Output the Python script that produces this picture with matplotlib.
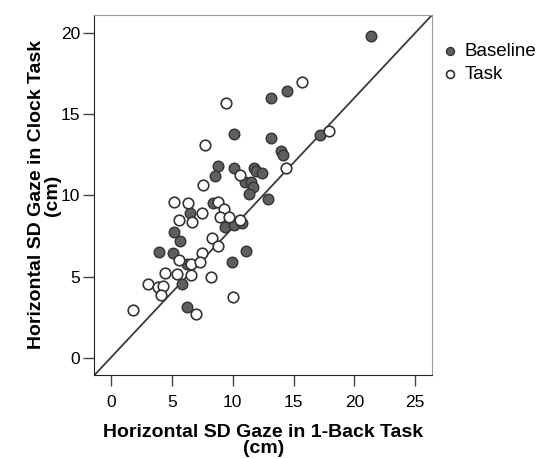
import matplotlib.pyplot as plt

plt.rcParams['font.family'] = ['Liberation Sans', 'DejaVu Sans']

# horizontal SD gaze (cm): 1-back task (x) vs clock task (y)
baseline_x = [21.4, 14.46, 13.12, 10.13, 13.12, 17.14, 13.97, 14.13, 8.82, 8.55,
              10.08, 11.72, 11.94, 12.41, 11.04, 11.53, 11.67, 11.34, 12.87, 6.46,
              8.38, 9.37, 10.08, 10.76, 5.2, 5.64, 3.91, 5.09, 11.06, 9.97,
              6.24, 5.83, 6.24]
baseline_y = [19.8, 16.44, 15.99, 13.78, 13.51, 13.72, 12.75, 12.49, 11.81, 11.2,
              11.67, 11.67, 11.52, 11.4, 10.81, 10.85, 10.54, 10.07, 9.77, 8.91,
              9.52, 8.08, 8.19, 8.33, 7.78, 7.22, 6.55, 6.49, 6.62, 5.93,
              5.79, 4.55, 3.13]

task_x = [15.66, 9.42, 17.91, 7.72, 10.57, 14.35, 7.53, 5.14, 6.33, 7.48,
          5.55, 6.68, 8.79, 9.31, 8.98, 9.7, 10.62, 8.3, 8.76, 7.48,
          5.61, 6.6, 7.28, 4.46, 5.42, 6.57, 8.22, 3.01, 3.83, 4.24,
          4.13, 10.02, 1.81, 7.01]
task_y = [16.95, 15.68, 13.96, 13.1, 11.26, 11.71, 10.65, 9.58, 9.52, 8.91,
          8.49, 8.39, 9.62, 9.19, 8.66, 8.66, 8.5, 7.37, 6.92, 6.45,
          6.04, 5.79, 5.93, 5.22, 5.16, 5.1, 5.01, 4.56, 4.4, 4.44,
          3.89, 3.75, 2.97, 2.72]

fig = plt.figure(figsize=(5.44, 4.59), dpi=100)
ax = fig.add_axes([0.1733, 0.1824, 0.6214, 0.7856])

ax.scatter(baseline_x, baseline_y, s=58, facecolor='#5f5f5f', edgecolor='#333333',
           linewidth=1.0, label='Baseline', zorder=3)
ax.scatter(task_x, task_y, s=58, facecolor='white', edgecolor='#333333',
           linewidth=1.2, label='Task', zorder=3)

# reference diagonal
ax.plot([0, 1], [0, 1], transform=ax.transAxes, color='#3a3a3a', lw=1.3, zorder=2)

ax.set_xlim(-1.37, 26.4)
ax.set_ylim(-1.04, 21.1)
ax.set_xticks([0, 5, 10, 15, 20, 25])
ax.set_yticks([0, 5, 10, 15, 20])
ax.tick_params(labelsize=12.5, length=8, width=1, color='#444444')
ax.tick_params(axis='x', pad=6)
ax.tick_params(axis='y', pad=2)

for side in ['left', 'bottom']:
    ax.spines[side].set_color('#222222')
for side in ['top', 'right']:
    ax.spines[side].set_color('#999999')

ax.set_xlabel('Horizontal SD Gaze in 1-Back Task\n(cm)', fontsize=14,
              fontweight='bold', labelpad=10, linespacing=0.95)
ax.set_ylabel('Horizontal SD Gaze in Clock Task\n(cm)', fontsize=14,
              fontweight='bold', labelpad=0, linespacing=0.95)

ax.legend(loc='upper left', bbox_to_anchor=(0.796, 0.924),
          bbox_transform=fig.transFigure, frameon=False, fontsize=13.5,
          handlelength=1.0, handletextpad=0.3, labelspacing=0.35,
          borderaxespad=0, markerscale=0.75)

fig.savefig('out.png', dpi=100)
